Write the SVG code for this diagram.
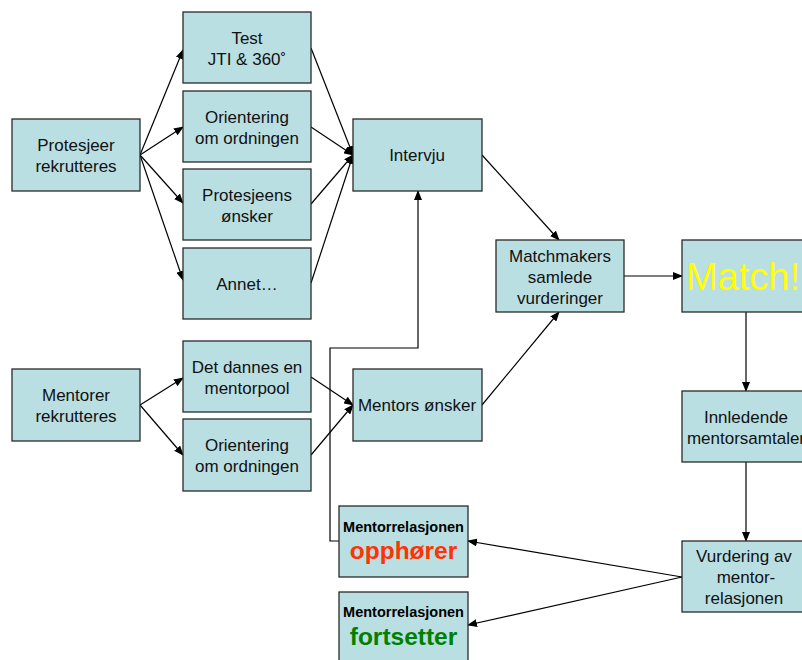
<svg xmlns="http://www.w3.org/2000/svg" width="802" height="660" viewBox="0 0 802 660">
<defs>
<marker id="ah" markerUnits="userSpaceOnUse" markerWidth="10" markerHeight="8" refX="9" refY="4" orient="auto">
<path d="M0,0 L10,4 L0,8 z" fill="#000"/>
</marker>
<style>
.box{fill:#BADFE3;stroke:#2a2a2a;stroke-width:1.3}
.t{font-family:"Liberation Sans",Arial,sans-serif;font-size:17px;fill:#111;text-anchor:middle}
.c{fill:none;stroke:#000;stroke-width:1.2;marker-end:url(#ah)}
.sb{font-family:"Liberation Sans",Arial,sans-serif;font-weight:bold;font-size:14.5px;fill:#000;text-anchor:middle}
.bb{font-family:"Liberation Sans",Arial,sans-serif;font-weight:bold;font-size:24.5px;text-anchor:middle}
</style>
</defs>
<rect width="802" height="660" fill="#fff"/>
<g id="connectors">
<line class="c" x1="140" y1="155" x2="183" y2="50"/>
<line class="c" x1="140" y1="155" x2="183" y2="127"/>
<line class="c" x1="140" y1="155" x2="183" y2="203"/>
<line class="c" x1="140" y1="155" x2="183" y2="280"/>
<line class="c" x1="311" y1="48" x2="353" y2="155"/>
<line class="c" x1="311" y1="127" x2="353" y2="155"/>
<line class="c" x1="311" y1="204" x2="353" y2="155"/>
<line class="c" x1="311" y1="283" x2="353" y2="155"/>
<line class="c" x1="482" y1="155" x2="559" y2="240"/>
<line class="c" x1="482" y1="405" x2="559" y2="312"/>
<line class="c" x1="624" y1="276" x2="682" y2="276"/>
<line class="c" x1="140" y1="405" x2="183" y2="378"/>
<line class="c" x1="140" y1="405" x2="183" y2="455"/>
<line class="c" x1="311" y1="377" x2="353" y2="405"/>
<line class="c" x1="311" y1="455" x2="353" y2="405"/>
<line class="c" x1="746" y1="312" x2="746" y2="391"/>
<line class="c" x1="746" y1="462" x2="746" y2="541"/>
<line class="c" x1="682" y1="577" x2="468" y2="541"/>
<line class="c" x1="682" y1="577" x2="468" y2="625"/>
<polyline class="c" points="339,541 330,541 330,348 418,348 418,191"/>
</g>
<g id="protesjeer-rekrutteres"><rect class="box" x="12" y="119" width="128" height="72"/><text class="t" x="76" y="151">Protesjeer</text><text class="t" x="76" y="172">rekrutteres</text></g>
<g id="test"><rect class="box" x="183" y="12" width="128" height="71"/><text class="t" x="247" y="44">Test</text><text class="t" x="247" y="65">JTI &amp; 360˚</text></g>
<g id="orientering1"><rect class="box" x="183" y="91" width="128" height="71"/><text class="t" x="247" y="123">Orientering</text><text class="t" x="247" y="144">om ordningen</text></g>
<g id="protesjeens-onsker"><rect class="box" x="183" y="169" width="128" height="71"/><text class="t" x="247" y="201">Protesjeens</text><text class="t" x="247" y="222">ønsker</text></g>
<g id="annet"><rect class="box" x="183" y="248" width="128" height="71"/><text class="t" x="247" y="290">Annet…</text></g>
<g id="intervju"><rect class="box" x="353" y="119" width="129" height="72"/><text class="t" x="417" y="161">Intervju</text></g>
<g id="matchmakers"><rect class="box" x="496" y="240" width="128" height="72"/><text class="t" x="560" y="262">Matchmakers</text><text class="t" x="560" y="283">samlede</text><text class="t" x="560" y="304">vurderinger</text></g>
<g id="match"><rect class="box" x="682" y="240" width="128" height="72"/><text x="743" y="290" font-family="Liberation Sans,Arial,sans-serif" font-size="38" fill="#FFFF00" text-anchor="middle">Match!</text></g>
<g id="mentorer-rekrutteres"><rect class="box" x="12" y="369" width="128" height="72"/><text class="t" x="76" y="401">Mentorer</text><text class="t" x="76" y="422">rekrutteres</text></g>
<g id="mentorpool"><rect class="box" x="183" y="341" width="128" height="71"/><text class="t" x="247" y="373">Det dannes en</text><text class="t" x="247" y="394">mentorpool</text></g>
<g id="orientering2"><rect class="box" x="183" y="419" width="128" height="72"/><text class="t" x="247" y="451">Orientering</text><text class="t" x="247" y="472">om ordningen</text></g>
<g id="mentors-onsker"><rect class="box" x="353" y="369" width="129" height="72"/><text class="t" x="417" y="411">Mentors ønsker</text></g>
<g id="innledende"><rect class="box" x="682" y="391" width="128" height="71"/><text class="t" x="746" y="423">Innledende</text><text class="t" x="746" y="444">mentorsamtaler</text></g>
<g id="vurdering"><rect class="box" x="682" y="541" width="128" height="71"/><text class="t" x="744" y="562">Vurdering av</text><text class="t" x="746" y="583">mentor-</text><text class="t" x="744" y="604">relasjonen</text></g>
<g id="opphorer"><rect class="box" x="339" y="506" width="129" height="71"/><text class="sb" x="403.5" y="532">Mentorrelasjonen</text><text class="bb" x="403.5" y="559" fill="#FF3300">opphører</text></g>
<g id="fortsetter"><rect class="box" x="339" y="592" width="129" height="72"/><text class="sb" x="403.5" y="617">Mentorrelasjonen</text><text class="bb" x="403.5" y="645" fill="#008000">fortsetter</text></g>
</svg>
